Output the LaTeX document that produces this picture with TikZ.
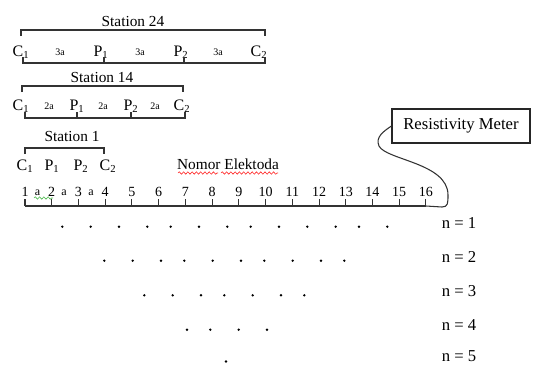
\documentclass[tikz,border=0pt]{standalone}
\usepackage{fontspec}
\setmainfont{Liberation Serif}
\usetikzlibrary{decorations.pathmorphing}
\begin{document}
\begin{tikzpicture}[x=0.75pt,y=-0.75pt,
  lbl/.style={inner sep=0pt, font=\fontsize{12}{12}\selectfont},
  ttl/.style={inner sep=0pt, font=\fontsize{11.5}{11.5}\selectfont},
  sml/.style={inner sep=0pt, font=\fontsize{7.5}{7.5}\selectfont},
  num/.style={inner sep=0pt, font=\fontsize{10.5}{10.5}\selectfont},
  nlab/.style={inner sep=0pt, font=\fontsize{12.5}{12.5}\selectfont},
  ln/.style={line width=0.8pt, draw=black!80},
  pt/.style={circle, fill=black, inner sep=0pt, minimum size=2pt},
  spell/.style={line width=0.45pt, decorate, decoration={snake, amplitude=0.9, segment length=3.2}}]
\useasboundingbox (0,0) rectangle (538,365);

% ---------- Station 24 ----------
\node[ttl] (s24) at (133,21) {Station 24};
\draw[ln] (21,36) -- (21,30) -- (265,30) -- (265,36);
\node[lbl] (a24c1) at (21,52) {C\textsubscript{1}};
\node[sml] (a24d1) at (60,52) {3a};
\node[lbl] (a24p1) at (101,52) {P\textsubscript{1}};
\node[sml] (a24d2) at (140,52) {3a};
\node[lbl] (a24p2) at (181,52) {P\textsubscript{2}};
\node[sml] (a24d3) at (218,52) {3a};
\node[lbl] (a24c2) at (259,52) {C\textsubscript{2}};
\draw[ln] (23,57) -- (23,63) -- (265,63) -- (265,57);
\draw[ln] (104,63) -- (104,57);
\draw[ln] (184,63) -- (184,57);

% ---------- Station 14 ----------
\node[ttl] (s14) at (102,77) {Station 14};
\draw[ln] (22,92) -- (22,86) -- (183,86) -- (183,92);
\node[lbl] (a14c1) at (21,106) {C\textsubscript{1}};
\node[sml] (a14d1) at (49,106) {2a};
\node[lbl] (a14p1) at (77,106) {P\textsubscript{1}};
\node[sml] (a14d2) at (103,106) {2a};
\node[lbl] (a14p2) at (131,106) {P\textsubscript{2}};
\node[sml] (a14d3) at (155,106) {2a};
\node[lbl] (a14c2) at (182,106) {C\textsubscript{2}};
\draw[ln] (25,112) -- (25,118) -- (185,118) -- (185,112);
\draw[ln] (77,118) -- (77,112);
\draw[ln] (131,118) -- (131,112);

% ---------- Station 1 ----------
\node[ttl] (s1) at (72,136) {Station 1};
\draw[ln] (25,154) -- (25,148) -- (104,148) -- (104,154);
\node[lbl] (a1c1) at (25,166) {C\textsubscript{1}};
\node[lbl] (a1p1) at (52,166) {P\textsubscript{1}};
\node[lbl] (a1p2) at (81,166) {P\textsubscript{2}};
\node[lbl] (a1c2) at (108,166) {C\textsubscript{2}};

% ---------- Nomor Elektoda ----------
\node[ttl] (ne) at (228,164) {Nomor Elektoda};
\draw[spell, red!85] (178,173) -- (218,173);
\draw[spell, red!85] (221,173) -- (278,173);

% ---------- Electrode line ----------
\foreach \i in {1,...,16} {
  \coordinate (e\i) at ({25+(\i-1)*26.73},206);
  \draw[ln] (e\i) -- ++(0,-7);
  \node[num] (n\i) at ({25+(\i-1)*26.73},192) {\i};
}
\node[num, font=\fontsize{9}{9}\selectfont] (sa1) at (37.5,193) {a};
\node[num, font=\fontsize{9}{9}\selectfont] (sa2) at (64,193) {a};
\node[num, font=\fontsize{9}{9}\selectfont] (sa3) at (91,193) {a};
\draw[spell, green!60!black!70] (34,198) -- (53,198);
\draw[ln] (e1) -- (e16);

% ---------- Resistivity meter ----------
\node[draw=black!85, line width=0.8pt, minimum width=103.5pt, minimum height=25.5pt, inner sep=0pt, font=\fontsize{12.5}{12.5}\selectfont] (rm) at (461,126) {Resistivity Meter};
\draw[ln] (e16) -- (442,207) .. controls (448,207) and (448,203) .. (448,195)
  .. controls (448,163) and (386,160) .. (379,146)
  .. controls (375,137) and (384,131) .. (rm.west);

% ---------- Datum points ----------
\foreach \x [count=\k] in {62.3,90.7,119,147.3,170.7,199,227.3,250.7,279,307.3,335.7,359,387.3}
  \node[pt] (d1-\k) at (\x,226.7) {};
\foreach \x [count=\k] in {104.3,132.7,161,184.3,212.7,241,264.3,292.7,321,344.3}
  \node[pt] (d2-\k) at (\x,260.7) {};
\foreach \x [count=\k] in {144.3,172.7,201,224.3,252.7,281,304.3}
  \node[pt] (d3-\k) at (\x,295.3) {};
\foreach \x [count=\k] in {187,210.3,238.7,267}
  \node[pt] (d4-\k) at (\x,329.7) {};
\node[pt] (d5-1) at (226,361.5) {};

% ---------- n labels ----------
\node[nlab] (l1) at (459,223) {n = 1};
\node[nlab] (l2) at (459,257) {n = 2};
\node[nlab] (l3) at (459,291) {n = 3};
\node[nlab] (l4) at (459,325) {n = 4};
\node[nlab] (l5) at (459,356) {n = 5};
\end{tikzpicture}
\end{document}
